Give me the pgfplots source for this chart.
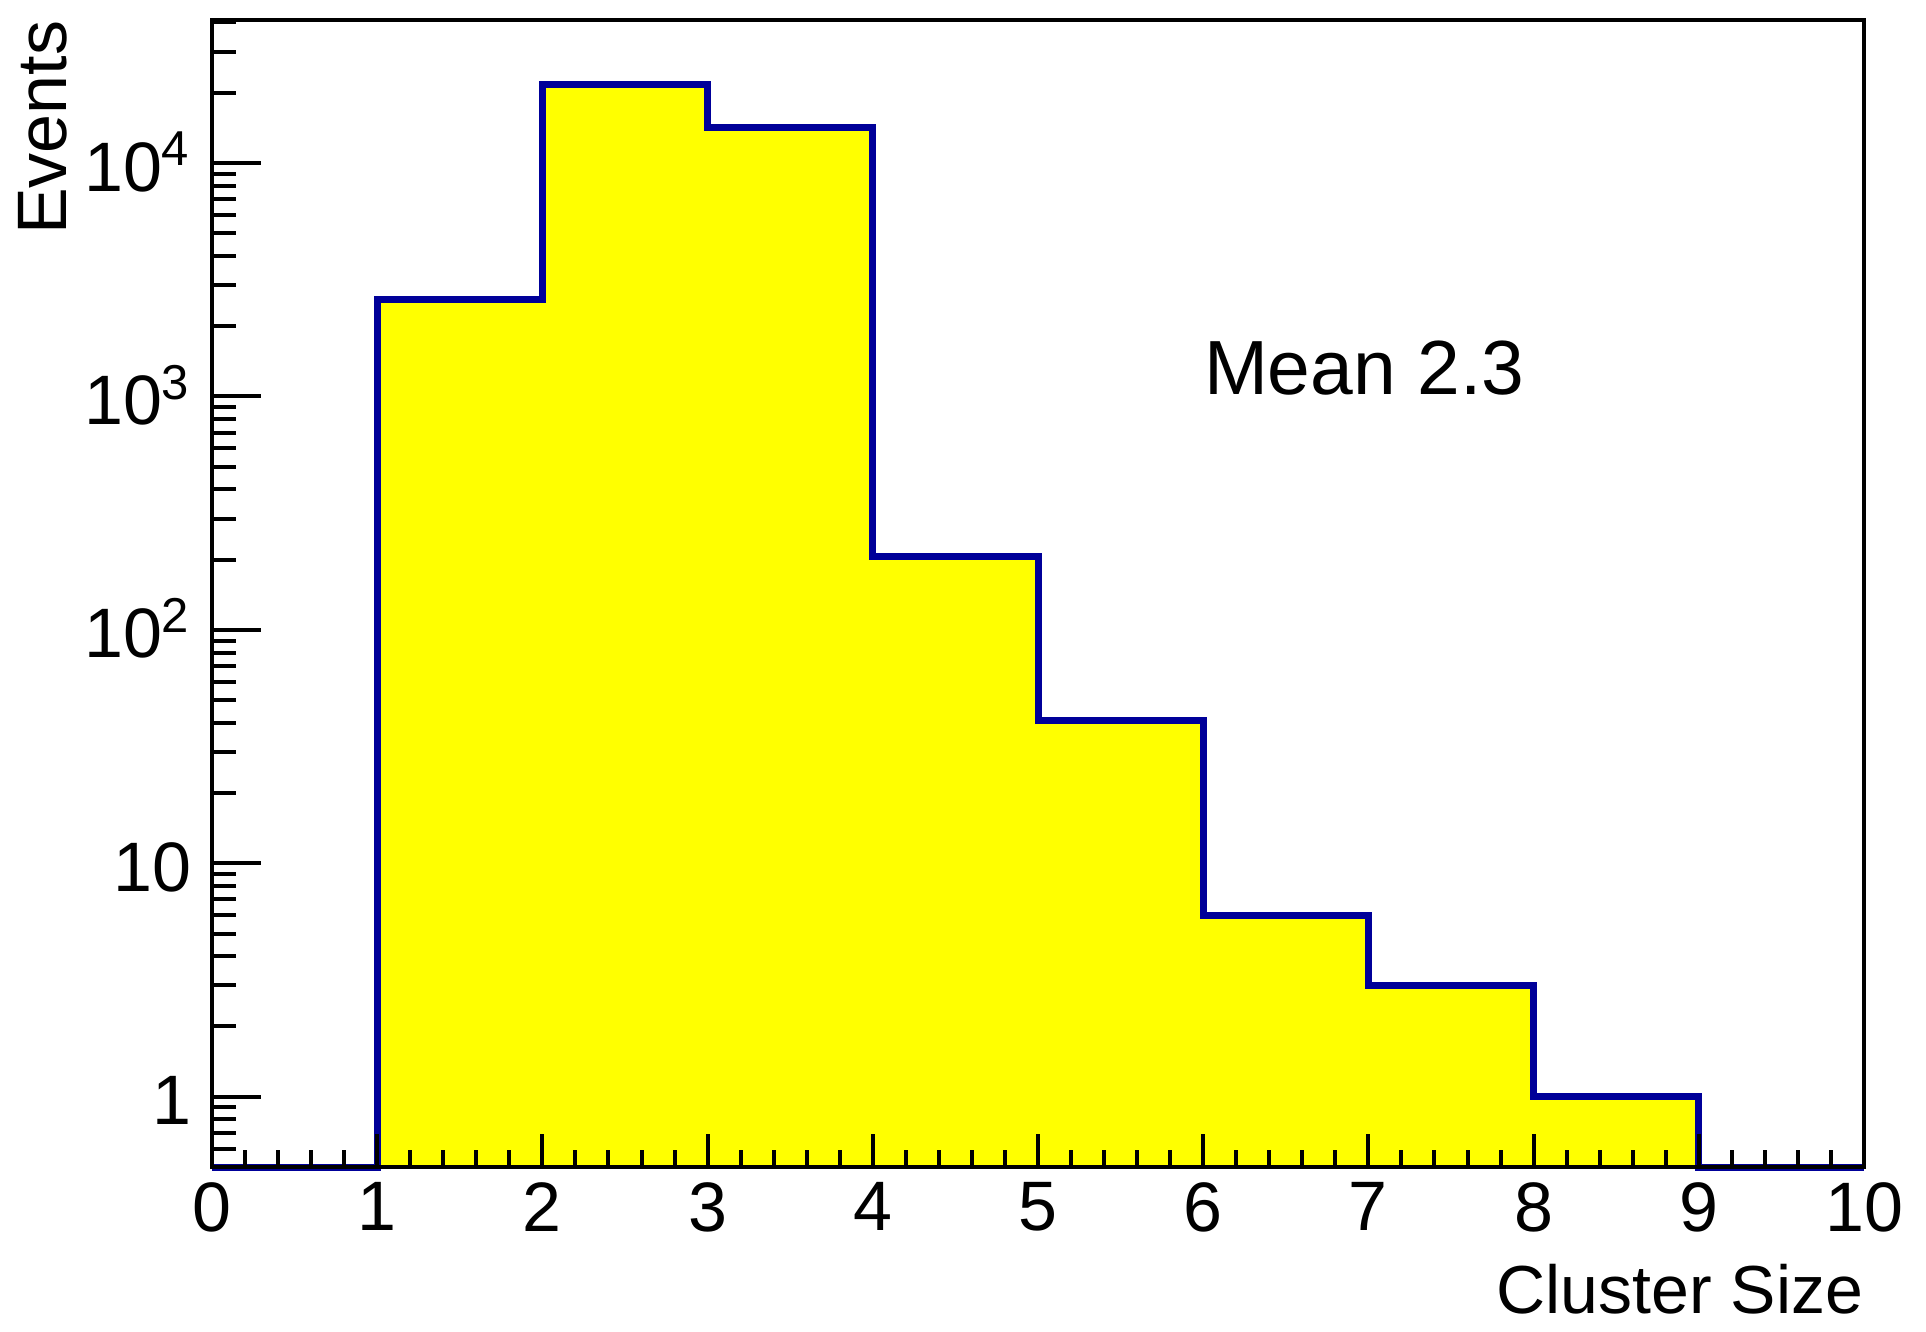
\documentclass[border=0pt]{standalone}
\usepackage{fontspec}
\setmainfont{Liberation Sans}
\usepackage{pgfplots}
\pgfplotsset{compat=1.18}
\definecolor{HistLine}{RGB}{0,0,153}
\definecolor{HistFill}{RGB}{255,255,0}

% cluster size histogram, bin low edge and content
\pgfplotstableread{
x y
0 0.5
1 2590
2 21600
3 14200
4 207
5 41
6 6
7 3
8 1
9 0.5
10 0.5
}\clusterdata

\begin{document}
\begin{tikzpicture}
\path[use as bounding box] (-53pt,-41pt) rectangle (428.5pt,291.75pt);
\begin{axis}[
    at={(0,0)}, anchor=south west,
    scale only axis, width=413pt, height=286.75pt,
    ymode=log, xmin=0, xmax=10, ymin=0.5, ymax=41000,
    clip=false, axis on top,
    axis line style={line width=1pt, black},
    tick align=inside, xtick pos=bottom, ytick pos=left,
    xtick={0,1,...,10}, minor x tick num=4,
    ytick={1,10,100,1000,10000},
    yticklabels={1,10,10\textsuperscript{2},10\textsuperscript{3},10\textsuperscript{4}},
    minor ytick={0.6,0.7,0.8,0.9,2,3,4,5,6,7,8,9,20,30,40,50,60,70,80,90,200,300,400,500,600,700,800,900,2000,3000,4000,5000,6000,7000,8000,9000,20000,30000,40000},
    tick style={line width=1pt, black},
    xtick style={/pgfplots/major tick length=8.25pt, /pgfplots/minor tick length=4.25pt},
    ytick style={/pgfplots/major tick length=12.25pt, /pgfplots/minor tick length=6pt},
    /pgf/number format/assume math mode=true,
    ticklabel style={font=\fontsize{17.5}{21}\selectfont, inner sep=0pt},
    xticklabel style={anchor=north, yshift=-3.75pt},
    yticklabel style={anchor=base east, xshift=-5pt, yshift=-7pt},
    xlabel={Cluster Size}, ylabel={Events},
    xlabel style={at={(axis description cs:1.0,-0.1273)}, anchor=base east, inner sep=0pt, font=\fontsize{17}{20}\selectfont},
    ylabel style={at={(axis description cs:-0.0878,1)}, rotate=0, anchor=base east, inner sep=0pt, font=\fontsize{17.5}{21}\selectfont},
]
\addplot[const plot, draw=none, fill=HistFill] table[x=x, y=y] {\clusterdata};
\addplot[const plot, HistLine, line width=1.75pt] table[x=x, y=y] {\clusterdata};
\node[anchor=base west, inner sep=0pt, font=\fontsize{19.2}{23}\selectfont] at (axis cs:6,1015) {Mean 2.3};
\end{axis}
\end{tikzpicture}
\end{document}
